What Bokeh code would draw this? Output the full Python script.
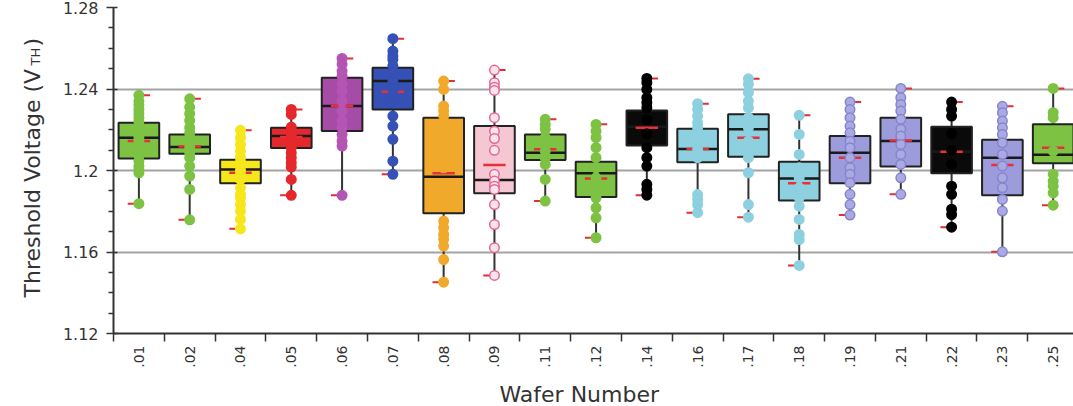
from math import pi
from bokeh.plotting import figure
from bokeh.layouts import row, column
from bokeh.models import Range1d, FixedTicker, Label, Title, ColumnDataSource
from bokeh.embed import file_html
from bokeh.resources import INLINE

# ---------------- data ----------------
wafers = [".01", ".02", ".04", ".05", ".06", ".07", ".08", ".09", ".11", ".12",
          ".14", ".16", ".17", ".18", ".19", ".21", ".22", ".23", ".25"]

q1 = [1.2059, 1.2082, 1.1937, 1.2110, 1.2194, 1.2300, 1.1790, 1.1888, 1.2051, 1.1870,
      1.2123, 1.2041, 1.2067, 1.1853, 1.1937, 1.2020, 1.1987, 1.1879, 1.2035]
median = [1.2161, 1.2115, 1.2005, 1.2169, 1.2316, 1.2439, 1.1969, 1.1953, 1.2087, 1.1986,
          1.2215, 1.2105, 1.2202, 1.1961, 1.2087, 1.2145, 1.2092, 1.2063, 1.2077]
q3 = [1.2234, 1.2177, 1.2053, 1.2210, 1.2455, 1.2504, 1.2259, 1.2218, 1.2177, 1.2043,
      1.2295, 1.2205, 1.2276, 1.2043, 1.2169, 1.2259, 1.2215, 1.2151, 1.2227]
mean = [1.2145, 1.2118, 1.1989, 1.2165, 1.2318, 1.2387, 1.1986, 1.2027, 1.2104, 1.1961,
        1.2210, 1.2105, 1.2161, 1.1937, 1.2063, 1.2147, 1.2092, 1.2027, 1.2112]
vmin = [1.1837, 1.1758, 1.1714, 1.1878, 1.1878, 1.1981, 1.1452, 1.1485, 1.1850, 1.1670,
        1.1879, 1.1793, 1.1771, 1.1534, 1.1781, 1.1883, 1.1722, 1.1601, 1.1830]
vmax = [1.2369, 1.2352, 1.2197, 1.2300, 1.2550, 1.2647, 1.2439, 1.2493, 1.2251, 1.2227,
        1.2452, 1.2328, 1.2450, 1.2271, 1.2336, 1.2403, 1.2336, 1.2315, 1.2403]

points = {
    ".01": [1.2369, 1.2341, 1.2321, 1.2300, 1.2279, 1.2259, 1.2239, 1.2218, 1.2193, 1.2177,
            1.2161, 1.2144, 1.2120, 1.2095, 1.2071, 1.2046, 1.2022, 1.2005, 1.1989, 1.1837],
    ".02": [1.2352, 1.2311, 1.2279, 1.2246, 1.2210, 1.2185, 1.2161, 1.2136, 1.2112, 1.2087,
            1.2063, 1.2022, 1.1973, 1.1907, 1.1758],
    ".04": [1.2197, 1.2161, 1.2128, 1.2095, 1.2066, 1.2043, 1.2022, 1.2000, 1.1981, 1.1956,
            1.1915, 1.1883, 1.1866, 1.1833, 1.1801, 1.1760, 1.1714],
    ".05": [1.2300, 1.2275, 1.2213, 1.2193, 1.2177, 1.2161, 1.2144, 1.2128, 1.2112, 1.2087,
            1.2063, 1.2038, 1.2017, 1.1956, 1.1878],
    ".06": [1.2550, 1.2521, 1.2488, 1.2464, 1.2423, 1.2390, 1.2341, 1.2292, 1.2243, 1.2210,
            1.2177, 1.2144, 1.2120, 1.1878],
    ".07": [1.2647, 1.2586, 1.2562, 1.2545, 1.2513, 1.2480, 1.2439, 1.2398, 1.2341, 1.2267,
            1.2218, 1.2153, 1.2046, 1.1981],
    ".08": [1.2439, 1.2398, 1.2316, 1.2292, 1.2267, 1.2177, 1.2095, 1.2013, 1.1932, 1.1850,
            1.1752, 1.1719, 1.1686, 1.1662, 1.1629, 1.1563, 1.1452],
    ".09": [1.2493, 1.2431, 1.2409, 1.2393, 1.2259, 1.2193, 1.2157, 1.2099, 1.1981, 1.1948,
            1.1923, 1.1907, 1.1833, 1.1735, 1.1621, 1.1485],
    ".11": [1.2251, 1.2226, 1.2202, 1.2161, 1.2128, 1.2095, 1.2063, 1.2030, 1.1956, 1.1850],
    ".12": [1.2226, 1.2193, 1.2161, 1.2112, 1.2063, 1.2013, 1.1964, 1.1915, 1.1866, 1.1817,
            1.1768, 1.1670],
    ".14": [1.2452, 1.2431, 1.2398, 1.2357, 1.2333, 1.2308, 1.2250, 1.2180, 1.2112, 1.2063,
            1.2022, 1.1932, 1.1907, 1.1879],
    ".16": [1.2328, 1.2300, 1.2267, 1.2234, 1.2210, 1.2177, 1.2144, 1.2103, 1.2063, 1.1882,
            1.1858, 1.1833, 1.1793],
    ".17": [1.2450, 1.2423, 1.2382, 1.2341, 1.2308, 1.2259, 1.2210, 1.2144, 1.2095, 1.2063,
            1.1989, 1.1833, 1.1771],
    ".18": [1.2271, 1.2177, 1.2079, 1.2013, 1.1964, 1.1915, 1.1866, 1.1825, 1.1760, 1.1686,
            1.1661, 1.1534],
    ".19": [1.2336, 1.2300, 1.2259, 1.2218, 1.2185, 1.2144, 1.2112, 1.2063, 1.2013, 1.1981,
            1.1940, 1.1883, 1.1833, 1.1781],
    ".21": [1.2403, 1.2357, 1.2324, 1.2292, 1.2251, 1.2202, 1.2169, 1.2128, 1.2079, 1.2030,
            1.1964, 1.1883],
    ".22": [1.2336, 1.2300, 1.2267, 1.2180, 1.2100, 1.2030, 1.1923, 1.1883, 1.1810, 1.1784,
            1.1722],
    ".23": [1.2315, 1.2284, 1.2243, 1.2210, 1.2177, 1.2136, 1.2079, 1.2022, 1.1964, 1.1915,
            1.1858, 1.1801, 1.1601],
    ".25": [1.2403, 1.2284, 1.2259, 1.2177, 1.2095, 1.1981, 1.1948, 1.1923, 1.1890, 1.1830],
}

box_fill = ["#7dc243", "#7dc243", "#f6e71d", "#e5282b", "#a64ca6", "#3551b5", "#f0a92b",
            "#f4c7d3", "#7dc243", "#7dc243", "#0a0a0a", "#8dd0df", "#8dd0df", "#8dd0df",
            "#9c9bdb", "#9c9bdb", "#0a0a0a", "#9c9bdb", "#7dc243"]
pt_fill = ["#7dc243", "#7dc243", "#f6e71d", "#e5282b", "#b455b4", "#3551b5", "#f0a92b",
           "#fbe3ea", "#7dc243", "#7dc243", "#000000", "#8dd0df", "#8dd0df", "#8dd0df",
           "#aaa9e2", "#aaa9e2", "#000000", "#aaa9e2", "#7dc243"]
pt_line = ["#7dc243", "#7dc243", "#f6e71d", "#e5282b", "#b455b4", "#3551b5", "#f0a92b",
           "#e2689a", "#7dc243", "#7dc243", "#000000", "#8dd0df", "#8dd0df", "#8dd0df",
           "#8584cf", "#8584cf", "#000000", "#8584cf", "#7dc243"]

y_tick_values = [1.12, 1.16, 1.2, 1.24, 1.28]
y_tick_labels = ["1.12", "1.16", "1.2", "1.24", "1.28"]
y_minor_values = [1.13, 1.14, 1.15, 1.17, 1.18, 1.19, 1.21, 1.22, 1.23, 1.25, 1.26, 1.27]

font = "DejaVu Sans"
ink = "#333333"
strip_w = 50
frame_left = 113

# ---------------- main figure ----------------
n = len(wafers)
xc = [i + 0.5 for i in range(n)]

p = figure(width=1073 - strip_w, height=370, x_range=Range1d(0, 18.9), y_range=Range1d(1.12, 1.28),
           output_backend="svg", toolbar_location=None,
           min_border_left=frame_left - strip_w, min_border_right=0, min_border_top=7,
           min_border_bottom=37)
p.outline_line_color = None
p.xgrid.grid_line_color = None
p.ygrid.grid_line_color = "#a3a3a3"
p.ygrid.grid_line_width = 2

src = ColumnDataSource(dict(x=xc, q1=q1, q3=q3, med=median, mean=mean, lo=vmin, hi=vmax,
                            fill=box_fill,
                            bl=[x - 0.4 for x in xc], br=[x + 0.4 for x in xc],
                            ml=[x - 0.22 for x in xc], mr=[x + 0.22 for x in xc],
                            tl0=[x + 0.07 for x in xc], tl1=[x + 0.22 for x in xc],
                            bl0=[x - 0.22 for x in xc], bl1=[x - 0.07 for x in xc]))

p.segment(x0="x", y0="q3", x1="x", y1="hi", source=src, line_color="#333333", line_width=2)
p.segment(x0="x", y0="q1", x1="x", y1="lo", source=src, line_color="#333333", line_width=2)
p.vbar(x="x", width=0.8, top="q3", bottom="q1", source=src, fill_color="fill",
       line_color="#222222", line_width=2)
p.segment(x0="bl", y0="med", x1="br", y1="med", source=src, line_color="#1a1a1a", line_width=2.5)
p.segment(x0="ml", y0="mean", x1="mr", y1="mean", source=src, line_color="#e8303a", line_width=2.5)
p.segment(x0="tl0", y0="hi", x1="tl1", y1="hi", source=src, line_color="#e03030", line_width=2)
p.segment(x0="bl0", y0="lo", x1="bl1", y1="lo", source=src, line_color="#e03030", line_width=2)

px, py, pf, pl = [], [], [], []
for i, w in enumerate(wafers):
    for v in points[w]:
        px.append(xc[i]); py.append(v); pf.append(pt_fill[i]); pl.append(pt_line[i])
psrc = ColumnDataSource(dict(x=px, y=py, f=pf, l=pl))
p.scatter(x="x", y="y", source=psrc, size=9.5, fill_color="f", line_color="l", line_width=1.5)

xa = p.xaxis[0]
xa.ticker = FixedTicker(ticks=xc, minor_ticks=[float(i) for i in range(n + 1)])
xa.major_label_overrides = {xc[i]: wafers[i] for i in range(n)}
xa.major_label_orientation = pi / 2
xa.major_tick_line_color = None
xa.major_tick_out = 7
xa.major_tick_in = 0
xa.minor_tick_out = 8
xa.minor_tick_in = 0
xa.minor_tick_line_color = ink
xa.minor_tick_line_width = 1.5
xa.axis_line_color = ink
xa.axis_line_width = 2
xa.major_label_text_font = font
xa.major_label_text_font_size = "14px"
xa.major_label_text_color = ink
xa.major_label_standoff = 4

ya = p.yaxis[0]
ya.ticker = FixedTicker(ticks=y_tick_values, minor_ticks=y_minor_values)
ya.major_label_overrides = {y_tick_values[i]: y_tick_labels[i] for i in range(len(y_tick_values))}
ya.major_tick_out = 7
ya.major_tick_in = 4
ya.minor_tick_out = 5
ya.minor_tick_in = 0
ya.major_tick_line_color = ink
ya.minor_tick_line_color = ink
ya.major_tick_line_width = 1.5
ya.minor_tick_line_width = 1.5
ya.axis_line_color = ink
ya.axis_line_width = 2
ya.major_label_text_font = font
ya.major_label_text_font_size = "16px"
ya.major_label_text_color = ink
ya.major_label_standoff = 8

# ---------------- y-axis title strip ----------------
lt = figure(width=strip_w, height=406, x_axis_type=None, y_axis_type=None, output_backend="svg",
            toolbar_location=None, min_border=0)
lt.outline_line_color = None
lt.grid.grid_line_color = None
lt.add_layout(Label(x=32, y=109, x_units="screen", y_units="screen", text="Threshold Voltage (V",
                    angle=pi / 2, text_font=font, text_font_size="22px", text_color=ink,
                    text_align="left", text_baseline="alphabetic"))
lt.add_layout(Label(x=35, y=341, x_units="screen", y_units="screen", text="TH",
                    angle=pi / 2, text_font=font, text_font_size="13px", text_color=ink,
                    text_align="left", text_baseline="alphabetic"))
lt.add_layout(Label(x=32, y=360, x_units="screen", y_units="screen", text=")",
                    angle=pi / 2, text_font=font, text_font_size="22px", text_color=ink,
                    text_align="left", text_baseline="alphabetic"))

# ---------------- x-axis title strip ----------------
bt = figure(width=1073 - strip_w, height=36, x_axis_type=None, y_axis_type=None, output_backend="svg",
            toolbar_location=None, min_border=0, min_border_left=frame_left - strip_w)
bt.outline_line_color = None
bt.grid.grid_line_color = None
bt.add_layout(Title(text="Wafer Number", align="left", offset=386, standoff=0,
                    text_font=font, text_font_size="22px", text_font_style="normal",
                    text_color=ink), "below")

layout = row(lt, column(p, bt, spacing=0), spacing=0)
open("out.html", "w").write(file_html(layout, INLINE))
